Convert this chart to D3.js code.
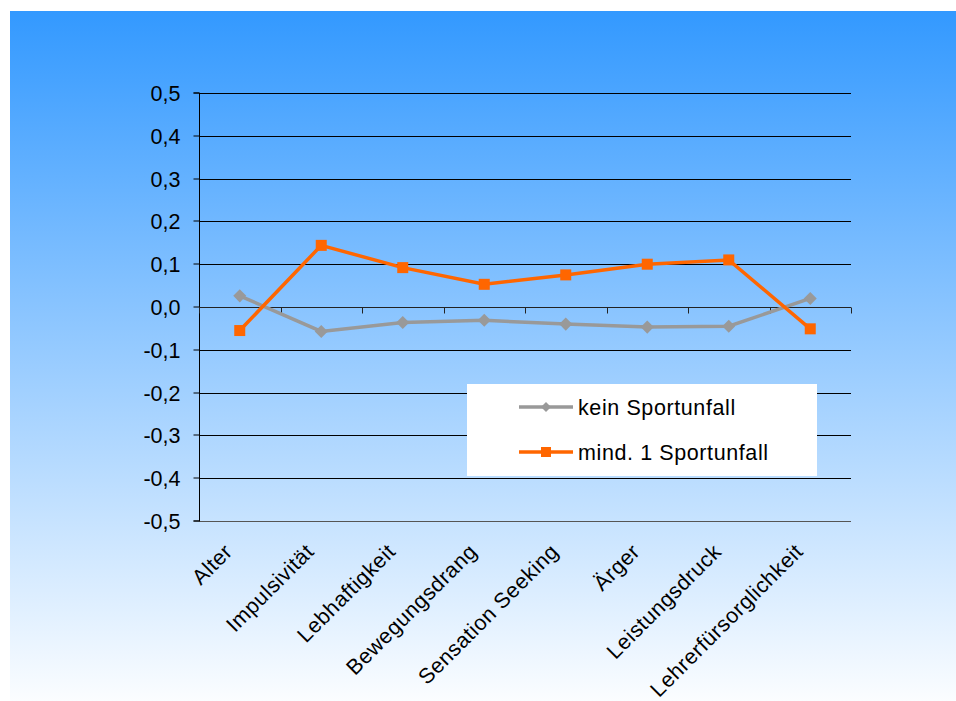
<!DOCTYPE html>
<html><head><meta charset="utf-8">
<script src="https://cdn.jsdelivr.net/npm/d3@7"></script>
<style>html,body{margin:0;padding:0;background:#fff;}svg{display:block;}</style>
</head><body>
<script>
const categories = ["Alter","Impulsivität","Lebhaftigkeit","Bewegungsdrang","Sensation Seeking","Ärger","Leistungsdruck","Lehrerfürsorglichkeit"];
const keinSportunfall = [0.026,-0.057,-0.036,-0.031,-0.040,-0.047,-0.045,0.020];
const mind1Sportunfall = [-0.055,0.144,0.092,0.053,0.075,0.100,0.110,-0.051];
const yTicks = [0.5,0.4,0.3,0.2,0.1,0.0,-0.1,-0.2,-0.3,-0.4,-0.5];
const seriesNames = ["kein Sportunfall","mind. 1 Sportunfall"];

const W=956,H=701;
const svg=d3.select("body").append("svg").attr("width",W).attr("height",H);
const defs=svg.append("defs");
const g=defs.append("linearGradient").attr("id","bg").attr("x1",0).attr("y1",0).attr("x2",0).attr("y2",1);
g.append("stop").attr("offset","0%").attr("stop-color","#3399ff");
g.append("stop").attr("offset","100%").attr("stop-color","#fbfdff");
svg.append("rect").attr("x",10).attr("y",11).attr("width",W-10).attr("height",H-11).attr("fill","url(#bg)");

const L=199,R=851,T=93,B=521;
const x=d3.scaleBand().domain(categories).range([L,R]);
const y=d3.scaleLinear().domain([-0.5,0.5]).range([B,T]);
const font="Liberation Sans, Arial, sans-serif";
const fs=21.5;

// gridlines
svg.append("g").selectAll("line").data(yTicks.filter(d=>d!==0)).join("line")
  .attr("x1",L).attr("x2",R).attr("y1",d=>Math.round(y(d))+0.5).attr("y2",d=>Math.round(y(d))+0.5)
  .attr("stroke",d=>d===-0.5?"#555":"#000").attr("stroke-width",1);

// y axis
const yAxis=d3.axisLeft(y).tickValues(yTicks).tickSize(6).tickPadding(13)
  .tickFormat(d=>d3.format(".1f")(d).replace(".",",").replace("−","-"));
const ya=svg.append("g").attr("transform",`translate(${L+0.5},0)`).call(yAxis);
ya.select(".domain").attr("stroke","#000").attr("d",`M-6,${T}H0V${B}H-6`);
ya.selectAll(".tick line").attr("stroke","#000");
ya.selectAll(".tick").attr("transform",d=>`translate(0,${Math.round(y(d))})`);
ya.selectAll("text").attr("font-family",font).attr("font-size",fs).attr("fill","#000").attr("dy","0.35em");

// x axis at zero
const y0=Math.round(y(0))+0.5;
const xg=svg.append("g");
xg.append("line").attr("x1",L).attr("x2",R).attr("y1",y0).attr("y2",y0).attr("stroke","#222");
const bounds=categories.map(c=>x(c)).concat([R]);
xg.selectAll("line.t").data(bounds).join("line").attr("class","t")
  .attr("x1",d=>Math.round(d)+0.5).attr("x2",d=>Math.round(d)+0.5).attr("y1",y0).attr("y2",y0+6).attr("stroke","#222");

// category labels
svg.append("g").selectAll("text").data(categories).join("text")
  .attr("transform",c=>`translate(${x(c)+x.bandwidth()/2-6},${B+32}) rotate(-45)`)
  .attr("text-anchor","end").attr("font-family",font).attr("font-size",fs).attr("fill","#000")
  .attr("letter-spacing",0.5)
  .text(c=>c);

const line=d3.line().x((d,i)=>x(categories[i])+x.bandwidth()/2).y(d=>y(d));
const cx=i=>x(categories[i])+x.bandwidth()/2;

// gray series
svg.append("path").datum(keinSportunfall).attr("d",line).attr("fill","none").attr("stroke","#999999").attr("stroke-width",3.5);
svg.append("g").selectAll("path").data(keinSportunfall).join("path")
  .attr("d",d3.symbol(d3.symbolSquare,85)())
  .attr("transform",(d,i)=>`translate(${cx(i)},${y(d)}) rotate(45)`).attr("fill","#999999");

// orange series
svg.append("path").datum(mind1Sportunfall).attr("d",line).attr("fill","none").attr("stroke","#ff6600").attr("stroke-width",3.5);
svg.append("g").selectAll("rect").data(mind1Sportunfall).join("rect")
  .attr("x",(d,i)=>cx(i)-5.5).attr("y",d=>y(d)-5.5).attr("width",11).attr("height",11).attr("fill","#ff6600");

// legend
const lg=svg.append("g");
lg.append("rect").attr("x",467).attr("y",384).attr("width",350).attr("height",92).attr("fill","#fff");
const colors=["#999999","#ff6600"];
[0,1].forEach(i=>{
  const ly=407+i*45;
  lg.append("line").attr("x1",519).attr("x2",573).attr("y1",ly).attr("y2",ly).attr("stroke",colors[i]).attr("stroke-width",3.5);
  if(i===0){
    lg.append("path").attr("d",d3.symbol(d3.symbolSquare,50)()).attr("transform",`translate(546,${ly}) rotate(45)`).attr("fill",colors[i]);
  } else {
    lg.append("rect").attr("x",541).attr("y",ly-5).attr("width",10).attr("height",10).attr("fill",colors[i]);
  }
  lg.append("text").attr("x",578).attr("y",ly).attr("dy","0.35em").attr("font-family",font).attr("font-size",fs)
    .attr("letter-spacing",0.6).attr("fill","#000").text(seriesNames[i]);
});
</script>
</body></html>
